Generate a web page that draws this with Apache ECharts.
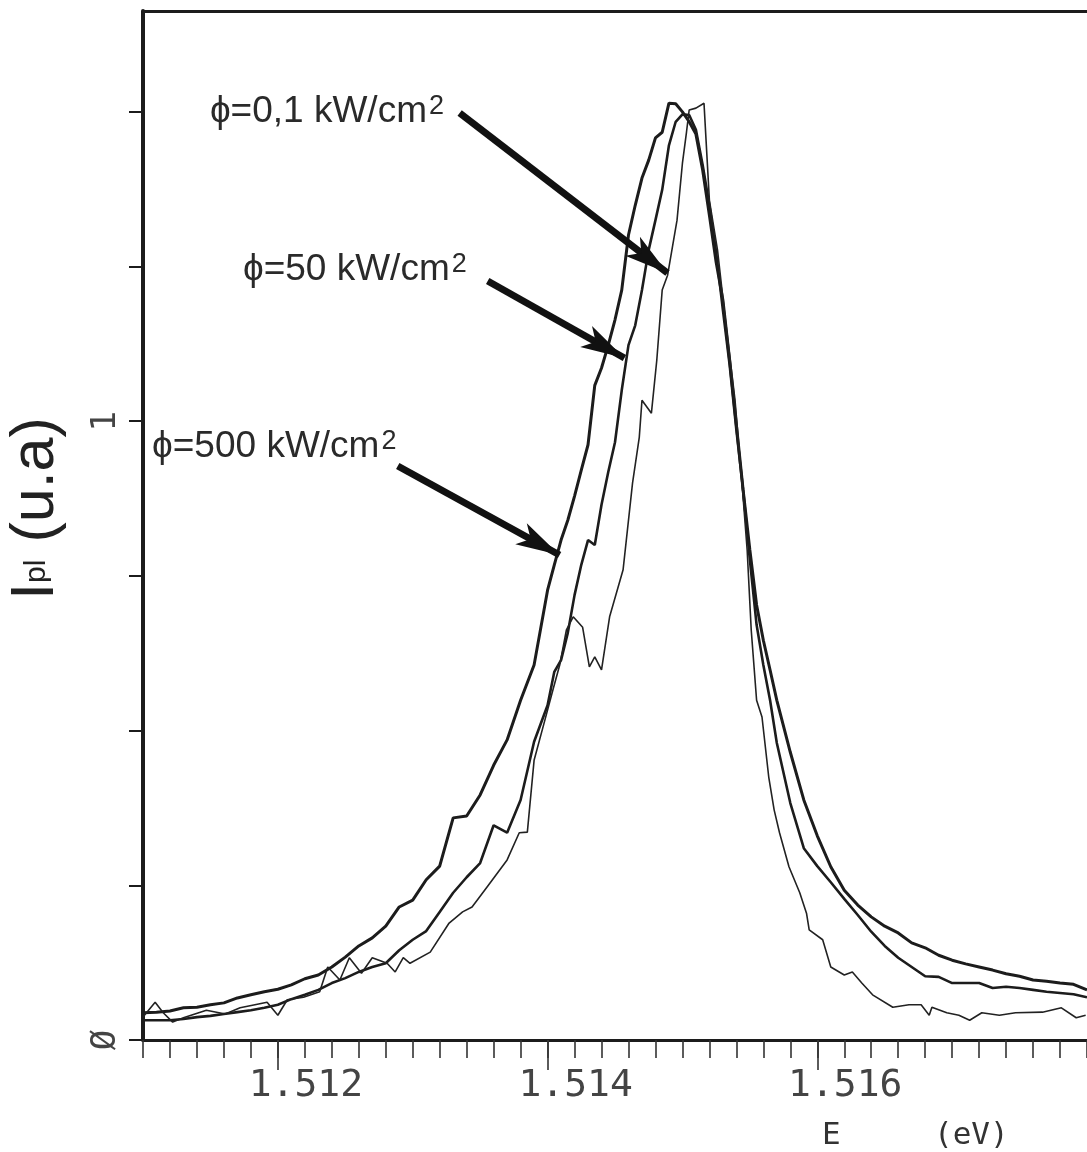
<!DOCTYPE html>
<html><head><meta charset="utf-8">
<script src="https://cdn.jsdelivr.net/npm/echarts@6/dist/echarts.min.js"></script>
<style>html,body{margin:0;padding:0;background:#fff}#chart{width:1087px;height:1152px}</style>
</head><body><div id="chart"></div>
<script>
// ---- data ----
const energyAB = [1.5110,1.5111,1.5112,1.5113,1.5114,1.5115,1.5116,1.5117,1.5118,1.5119,
  1.5120,1.5121,1.5122,1.5123,1.5124,1.5125,1.5126,1.5127,1.5128,1.5129,
  1.5130,1.5131,1.5132,1.5133,1.5134,1.5135,1.5136,1.5137,1.5138,1.5139,1.5140,
  1.51405,1.5141,1.51415,1.5142,1.51425,1.5143,1.51435,1.5144,1.51445,1.5145,
  1.51455,1.5146,1.51465,1.5147,1.51475,1.5148,1.51485,1.5149,1.51495,1.5150,
  1.51505,1.5151,1.51515,1.5152,1.51525,1.5153,1.51535,1.5154,1.51545,1.5155,
  1.51555,1.5156,1.51565,1.5157,
  1.5158,1.5159,1.5160,1.5161,1.5162,1.5163,1.5164,1.5165,1.5166,1.5167,1.5168,1.5169,
  1.5170,1.5171,1.5172,1.5173,1.5174,1.5175,1.5176,1.5177,1.5178,1.5179,1.5180];
const intensity500 = [0.044,0.045,0.047,0.052,0.053,0.057,0.060,0.068,0.073,0.078,
  0.082,0.089,0.099,0.105,0.118,0.134,0.152,0.165,0.184,0.215,
  0.226,0.259,0.281,0.359,0.362,0.396,0.444,0.485,0.549,0.606,0.727,
  0.768,0.808,0.840,0.879,0.921,0.962,1.058,1.086,1.123,1.164,
  1.212,1.301,1.349,1.393,1.422,1.458,1.467,1.514,1.513,1.500,
  1.484,1.464,1.406,1.333,1.257,1.196,1.099,0.994,0.889,0.792,
  0.703,0.646,0.598,0.549,
  0.465,0.388,0.330,0.280,0.242,0.218,0.199,0.184,0.173,0.157,0.149,0.137,
  0.129,0.123,0.118,0.113,0.107,0.103,0.097,0.095,0.092,0.090,0.081];
const intensity50 = [0.032,0.032,0.032,0.034,0.037,0.039,0.042,0.045,0.048,0.052,
  0.057,0.066,0.073,0.081,0.092,0.100,0.110,0.118,0.124,0.145,
  0.162,0.176,0.207,0.238,0.263,0.286,0.347,0.335,0.388,0.482,0.541,
  0.595,0.614,0.658,0.719,0.768,0.808,0.800,0.865,0.918,0.966,
  1.050,1.123,1.155,1.212,1.277,1.325,1.374,1.446,1.484,1.496,
  1.495,1.471,1.414,1.349,1.273,1.180,1.091,0.986,0.889,0.776,
  0.671,0.606,0.549,0.480,
  0.383,0.310,0.281,0.255,0.228,0.202,0.175,0.152,0.133,0.118,0.103,0.102,
  0.092,0.092,0.092,0.084,0.086,0.084,0.081,0.078,0.076,0.074,0.069];
const energy01 = [1.51100,1.51109,1.51115,1.51122,1.51130,1.51147,1.51161,1.51172,1.51183,1.51192,
  1.51200,1.51207,1.51219,1.51231,1.51237,1.51246,1.51253,1.51262,1.51270,1.51281,
  1.51287,1.51293,1.51298,1.51313,1.51327,1.51337,1.51344,1.51355,1.51370,1.51379,
  1.51385,1.51390,1.51398,1.51404,1.51409,1.51414,1.51419,1.51426,1.51431,1.51435,
  1.51440,1.51446,1.51456,1.51463,1.51468,1.51470,1.51477,1.51481,1.51485,1.51489,
  1.51496,1.51500,1.51503,1.51505,1.51510,1.51516,1.51520,1.51526,1.51531,1.51539,
  1.51544,1.51548,1.51551,1.51555,1.51559,1.51564,1.51568,1.51572,1.51579,1.51587,
  1.51592,1.51594,1.51604,1.51610,1.51620,1.51626,1.51633,1.51641,1.51656,1.51668,
  1.51677,1.51683,1.51685,1.51696,1.51705,1.51713,1.51722,1.51735,1.51747,1.51767,
  1.51781,1.51792,1.51799];
const intensity01 = [0.037,0.061,0.044,0.029,0.036,0.048,0.042,0.052,0.057,0.061,
  0.040,0.065,0.069,0.078,0.118,0.097,0.133,0.108,0.133,0.124,
  0.110,0.133,0.124,0.142,0.189,0.207,0.215,0.247,0.291,0.335,
  0.336,0.452,0.517,0.566,0.606,0.663,0.684,0.667,0.603,0.619,
  0.598,0.684,0.760,0.900,0.974,1.034,1.013,1.099,1.212,1.236,
  1.325,1.417,1.467,1.503,1.506,1.514,1.357,1.277,1.180,1.034,
  0.905,0.792,0.663,0.549,0.522,0.425,0.372,0.335,0.280,0.238,
  0.205,0.178,0.162,0.118,0.105,0.110,0.092,0.073,0.053,0.057,
  0.057,0.040,0.053,0.044,0.040,0.032,0.044,0.040,0.044,0.045,
  0.052,0.036,0.040];
const xLabelTicks = [1.512, 1.514, 1.516];
const yTicks = [0, 0.25, 0.5, 0.75, 1, 1.25, 1.5];
const yLabelTicks = [0, 1];
const labelTexts = ['\u03D5=0,1 kW/cm', '\u03D5=50 kW/cm', '\u03D5=500 kW/cm'];
const labelSup = '2';
const labelAnchorE = [1.511496, 1.511741, 1.511067];
const labelAnchorI = [1.4997, 1.2444, 0.9583];
const arrowFromE = [1.513348, 1.513556, 1.512889];
const arrowFromI = [1.4981, 1.2266, 0.9276];
const arrowToE = [1.514889, 1.514570, 1.514089];
const arrowToI = [1.2395, 1.1021, 0.7838];

const zip = (xs, ys) => xs.map((x, i) => [x, ys[i]]);
const ink = '#1c1c1c';
const chart = echarts.init(document.getElementById('chart'), null, {renderer: 'canvas'});
chart.setOption({
  animation: false,
  backgroundColor: '#ffffff',
  grid: {left: 143, right: 0, top: 11, bottom: 112, outerBoundsMode: 'none', containLabel: false},
  xAxis: [
    {type: 'value', min: 1.511, max: 1.518, interval: 0.0002, position: 'bottom',
     axisLine: {show: true, lineStyle: {color: ink, width: 3}},
     axisTick: {show: true, inside: false, length: 18, lineStyle: {color: '#333', width: 1.6}},
     axisLabel: {show: true, customValues: xLabelTicks, formatter: v => v.toFixed(3),
       fontFamily: 'DejaVu Sans Mono', fontSize: 38, color: '#444', margin: 27, padding: [0, 0, 0, 56]},
     splitLine: {show: false}},
    {type: 'value', min: 1.511, max: 1.518, position: 'bottom',
     axisLine: {show: false},
     axisTick: {show: true, customValues: xLabelTicks, length: 30, lineStyle: {color: '#333', width: 1.6}},
     axisLabel: {show: false}, splitLine: {show: false}},
    {type: 'value', min: 1.511, max: 1.518, position: 'top',
     axisLine: {show: true, lineStyle: {color: ink, width: 3}},
     axisTick: {show: false}, axisLabel: {show: false}, splitLine: {show: false}}
  ],
  yAxis: {
    type: 'value', min: 0, max: 1.663, interval: 0.25,
    axisLine: {show: true, lineStyle: {color: ink, width: 4}},
    axisTick: {show: true, inside: false, length: 14, customValues: yTicks, lineStyle: {color: ink, width: 2}},
    axisLabel: {show: true, customValues: yLabelTicks, rotate: 90, margin: 20,
      formatter: v => (Math.abs(v) < 1e-9 ? '\u00D8' : '1'),
      fontFamily: 'DejaVu Sans Mono', fontSize: 34, color: '#444'},
    splitLine: {show: false},
    name: '{I|I}{s|pl}{I| (u.a)}', nameLocation: 'middle', nameRotate: 90, nameGap: 76, nameMoveOverlap: false,
    nameTextStyle: {rich: {
      I: {fontFamily: 'Liberation Sans', fontSize: 61, color: '#222'},
      s: {fontFamily: 'Liberation Sans', fontSize: 30, color: '#222'}
    }, padding: [0, 0, 0, 34]}
  },
  series: [
    {name: '500', type: 'line', data: zip(energyAB, intensity500), xAxisIndex: 0, yAxisIndex: 0,
     showSymbol: false, symbol: 'none', silent: true, lineStyle: {color: ink, width: 3}, z: 3,
     markLine: {
       silent: true, animation: false, symbol: ['none', 'arrow'],
       label: {show: false}, emphasis: {disabled: true},
       lineStyle: {color: '#111', width: 7, type: 'solid'},
       data: arrowFromE.map((e, i) => [
         {coord: [e, arrowFromI[i]], symbol: 'none'},
         {coord: [arrowToE[i], arrowToI[i]], symbol: 'arrow', symbolSize: [18, 44]}
       ])
     },
     markPoint: {
       silent: true, animation: false, symbol: 'circle', symbolSize: 0,
       data: labelTexts.map((t, i) => ({
         coord: [labelAnchorE[i], labelAnchorI[i]],
         label: {show: true, position: 'right', distance: 0,
           formatter: '{t|' + t + '}{u|' + labelSup + '}',
           rich: {
             t: {fontFamily: 'Liberation Sans, DejaVu Sans', fontSize: 37, color: '#2a2a2a'},
             u: {fontFamily: 'Liberation Sans', fontSize: 27, color: '#2a2a2a', verticalAlign: 'top', padding: [0, 0, 0, 2]}
           }}
       }))
     }},
    {name: '50', type: 'line', data: zip(energyAB, intensity50), xAxisIndex: 0, yAxisIndex: 0,
     showSymbol: false, symbol: 'none', silent: true, lineStyle: {color: ink, width: 2.6}, z: 3},
    {name: '0.1', type: 'line', data: zip(energy01, intensity01), xAxisIndex: 0, yAxisIndex: 0,
     showSymbol: false, symbol: 'none', silent: true, lineStyle: {color: '#222', width: 1.6}, z: 3}
  ],
  graphic: [
    {type: 'text', left: 822, top: 1120, silent: true,
     style: {text: 'E     (eV)', font: '31px "DejaVu Sans Mono"', fill: '#333'}}
  ]
});
</script></body></html>
